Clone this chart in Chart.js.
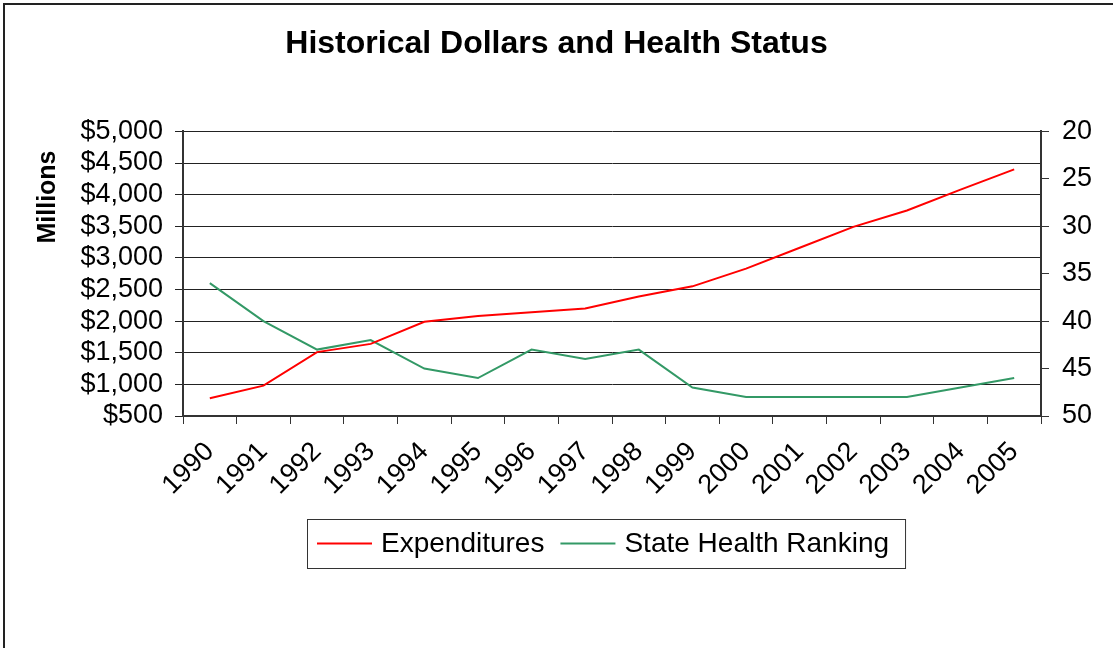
<!DOCTYPE html>
<html>
<head>
<meta charset="utf-8">
<script src="https://cdn.jsdelivr.net/npm/chart.js@4"></script>
<style>
  body { margin: 0; background: #fff; }
</style>
</head>
<body>
<canvas id="healthChart" width="1113" height="648"></canvas>
<script>
const years = ['1990', '1991', '1992', '1993', '1994', '1995', '1996', '1997',
               '1998', '1999', '2000', '2001', '2002', '2003', '2004', '2005'];
// millions of dollars
const expenditures = [780, 980, 1510, 1640, 1990, 2080, 2140, 2200,
                      2390, 2550, 2830, 3160, 3490, 3750, 4080, 4400];
// state ranking, lower is better (axis is reversed)
const healthRanking = [36, 40, 43, 42, 45, 46, 43, 44,
                       43, 47, 48, 48, 48, 48, 47, 46];
const dollarTicks = [500, 5000, 500];   // min, max, step
const rankTicks = [20, 50, 5];

const FONT = '"Liberation Sans", Arial, sans-serif';

// frame, side title and the boxed legend
const extras = {
    id: 'extras',
    afterDraw: (chart) => {
        const ctx = chart.ctx;
        ctx.save();
        ctx.strokeStyle = '#222';
        ctx.lineWidth = 2;
        ctx.strokeRect(4, 4, 2000, 2000);

        ctx.fillStyle = '#000';
        ctx.font = 'bold 25px ' + FONT;
        ctx.textAlign = 'center';
        ctx.textBaseline = 'middle';
        ctx.translate(48, 197);
        ctx.rotate(-Math.PI / 2);
        ctx.fillText('Millions', 0, 0);
        ctx.restore();

        // legend
        ctx.save();
        ctx.font = '28px ' + FONT;
        ctx.textBaseline = 'middle';
        ctx.textAlign = 'left';
        const boxL = 307, boxT = 519, boxB = 568;
        const midY = (boxT + boxB) / 2;
        let x = boxL + 10;
        chart.data.datasets.forEach((ds) => {
            ctx.strokeStyle = ds.borderColor;
            ctx.lineWidth = 2;
            ctx.beginPath();
            ctx.moveTo(x, midY);
            ctx.lineTo(x + 55, midY);
            ctx.stroke();
            x += 64;
            ctx.fillStyle = '#000';
            ctx.fillText(ds.label, x, midY + 1);
            x += ctx.measureText(ds.label).width + 16;
        });
        ctx.strokeStyle = '#333';
        ctx.lineWidth = 1;
        ctx.strokeRect(boxL + 0.5, boxT + 0.5, x - boxL, boxB - boxT);
        ctx.restore();
    }
};

const ctx = document.getElementById('healthChart').getContext('2d');
new Chart(ctx, {
    type: 'line',
    data: {
        labels: years,
        datasets: [{
            label: 'Expenditures',
            data: expenditures,
            borderColor: '#ff0000',
            borderWidth: 2,
            pointRadius: 0,
            yAxisID: 'y'
        }, {
            label: 'State Health Ranking',
            data: healthRanking,
            borderColor: '#339966',
            borderWidth: 2,
            pointRadius: 0,
            yAxisID: 'y2'
        }]
    },
    options: {
        responsive: false,
        animation: false,
        devicePixelRatio: 1,
        layout: { padding: { left: 0, right: 0, top: 0, bottom: 132 } },
        scales: {
            x: {
                offset: true,
                afterFit: (scale) => { scale.height = 100; },
                grid: { drawOnChartArea: false, tickLength: 8, color: '#333', offset: true },
                border: { color: '#333', width: 2 },
                ticks: {
                    minRotation: 45,
                    maxRotation: 45,
                    autoSkip: false,
                    padding: 12,
                    color: '#000',
                    font: { family: FONT, size: 27 }
                }
            },
            y: {
                position: 'left',
                min: dollarTicks[0],
                max: dollarTicks[1],
                afterFit: (scale) => { scale.width = 183; },
                grid: { color: '#222', tickLength: 8 },
                border: { color: '#333', width: 2 },
                ticks: {
                    stepSize: dollarTicks[2],
                    autoSkip: false,
                    padding: 12,
                    color: '#000',
                    font: { family: FONT, size: 27 },
                    callback: (v) => '$' + v.toLocaleString('en-US')
                }
            },
            y2: {
                position: 'right',
                reverse: true,
                min: rankTicks[0],
                max: rankTicks[1],
                afterFit: (scale) => { scale.width = 72; },
                grid: { drawOnChartArea: false, tickLength: 8, color: '#333' },
                border: { color: '#333', width: 2 },
                ticks: {
                    stepSize: rankTicks[2],
                    autoSkip: false,
                    padding: 13,
                    color: '#000',
                    font: { family: FONT, size: 27 }
                }
            }
        },
        plugins: {
            legend: { display: false },
            tooltip: { enabled: false },
            title: {
                display: true,
                text: 'Historical Dollars and Health Status',
                color: '#000',
                font: { family: FONT, size: 32, weight: 'bold' },
                padding: { top: 25, bottom: 68 }
            }
        }
    },
    plugins: [extras]
});
</script>
</body>
</html>
